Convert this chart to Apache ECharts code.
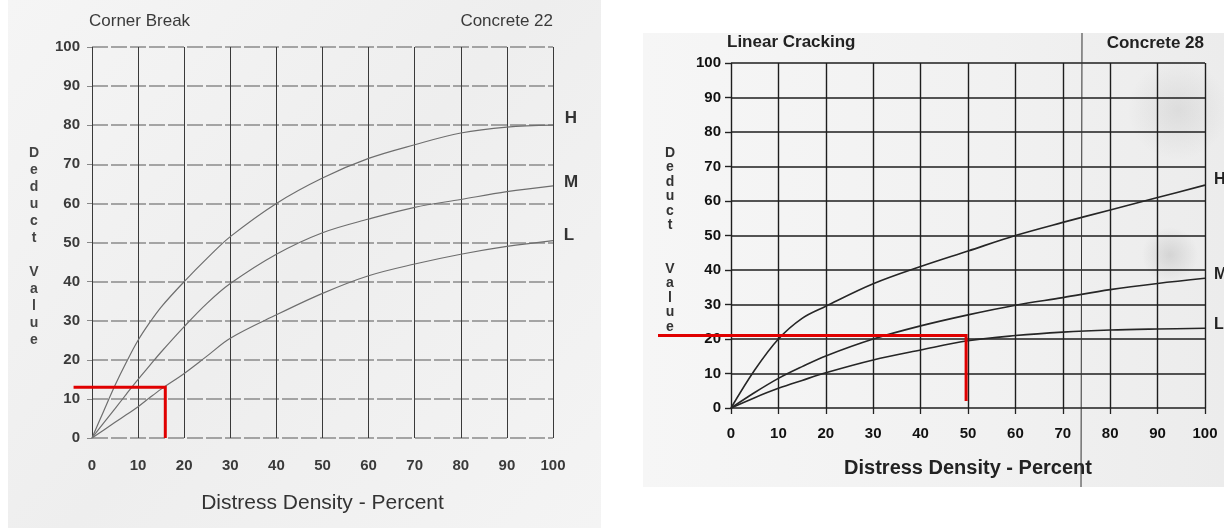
<!DOCTYPE html>
<html><head><meta charset="utf-8">
<script src="https://cdn.jsdelivr.net/npm/echarts@6/dist/echarts.min.js"></script>
<style>html,body{margin:0;padding:0;background:#fff}#c{width:1224px;height:528px}</style>
</head><body><div id="c"></div>
<script>
// ---- data ----
const tickValues = [0,10,20,30,40,50,60,70,80,90,100];

// Left chart: Corner Break (Concrete 22)
const leftX = [0,2.5,5,7.5,10,12.5,15,20,25,30,40,50,60,70,80,90,100];
const leftH = [0,6.8,13.5,19.5,25,29.5,33.5,40,46,51.5,60,66.5,71.5,75,78,79.5,80];
const leftM = [0,3.8,7.5,11.3,15,18.5,22,28.5,34.5,39.5,47,52.5,56,59,61,63,64.5];
const leftL = [0,2,4,6,8,10.3,12.5,16.5,21,25.5,31.5,37,41.5,44.5,47,49,50.5];
const leftRedX = [-4,15.9,15.9];
const leftRedY = [13,13,0];

// Right chart: Linear Cracking (Concrete 28)
const rightX = [0,5,10,15,20,30,40,50,60,70,80,90,100];
const rightH = [0,11,20,26,29.5,36,41,45.5,50,53.8,57.4,61,64.6];
const rightM = [0,4.5,8.6,12,15.1,20,23.8,27,29.8,32,34.3,36.1,37.6];
const rightL = [0,3,5.7,8,10.2,13.9,16.8,19.5,21,22,22.6,22.9,23.1];
const rightRedX = [-15.4,49.6,49.6];
const rightRedY = [21,21,2];

const severityLabels = ['H','M','L'];

const pairs = (xs, ys) => xs.map((x,i)=>[x, ys[i]]);
const NARROW = "'Liberation Sans Narrow','Arial Narrow','Liberation Sans',Arial,sans-serif";
const BOLD = "'Liberation Sans',Arial,sans-serif";

const chart = echarts.init(document.getElementById('c'), null, {renderer:'canvas'});

function curve(gi, xs, ys, color, width){
  return {type:'line', xAxisIndex:gi, yAxisIndex:gi, data:pairs(xs,ys), smooth:0.35,
    showSymbol:false, symbol:'none', lineStyle:{color:color, width:width}, z:5, silent:true};
}

const staticGraphics = [
    // paper backgrounds
    {type:'rect', z:-20, shape:{x:8, y:0, width:593, height:528},
     style:{fill:new echarts.graphic.LinearGradient(0,0,1,1,[{offset:0,color:'#f5f5f5'},{offset:0.5,color:'#eeeeee'},{offset:1,color:'#f4f4f4'}])}},
    {type:'rect', z:-20, shape:{x:643, y:33, width:581, height:454},
     style:{fill:new echarts.graphic.LinearGradient(0,0,1,0,[{offset:0,color:'#f6f6f6'},{offset:0.6,color:'#f1f1f1'},{offset:1,color:'#ececec'}])}},
    {type:'ellipse', z:-19, shape:{cx:1178, cy:110, rx:50, ry:60},
     style:{fill:new echarts.graphic.RadialGradient(0.5,0.5,0.5,[{offset:0,color:'rgba(120,120,120,0.14)'},{offset:1,color:'rgba(120,120,120,0)'}])}},
    {type:'ellipse', z:-19, shape:{cx:1170, cy:255, rx:60, ry:28},
     style:{fill:new echarts.graphic.RadialGradient(0.5,0.5,0.5,[{offset:0,color:'rgba(100,100,100,0.18)'},{offset:1,color:'rgba(100,100,100,0)'}])}},
    // stray vertical scan line on right page
    {type:'line', z:20, shape:{x1:1082, y1:33, x2:1081, y2:487}, style:{stroke:'#333', lineWidth:1}},
    // left titles
    {type:'text', z:20, style:{text:'Corner Break', x:89, y:21, fontSize:17, fill:'#3a3a3a', fontFamily:NARROW, verticalAlign:'middle', align:'left'}},
    {type:'text', z:20, style:{text:'Concrete 22', x:553, y:21, fontSize:17, fill:'#3a3a3a', fontFamily:NARROW, verticalAlign:'middle', align:'right'}},
    {type:'text', z:20, style:{text:'D\ne\nd\nu\nc\nt\n\nV\na\nl\nu\ne', x:34, y:247, fontSize:14, fontWeight:'bold', lineHeight:17, fill:'#444', fontFamily:NARROW, verticalAlign:'middle', align:'center'}},
    {type:'text', z:20, style:{text:severityLabels[0], x:571, y:118, fontSize:17, fontWeight:'bold', fill:'#333', fontFamily:NARROW, verticalAlign:'middle', align:'center'}},
    {type:'text', z:20, style:{text:severityLabels[1], x:571, y:182, fontSize:17, fontWeight:'bold', fill:'#333', fontFamily:NARROW, verticalAlign:'middle', align:'center'}},
    {type:'text', z:20, style:{text:severityLabels[2], x:569, y:235, fontSize:17, fontWeight:'bold', fill:'#333', fontFamily:NARROW, verticalAlign:'middle', align:'center'}},
    // right titles
    {type:'text', z:20, style:{text:'Linear Cracking', x:727, y:42, fontSize:17, fontWeight:'bold', fill:'#222', fontFamily:BOLD, verticalAlign:'middle', align:'left'}},
    {type:'text', z:20, style:{text:'Concrete 28', x:1204, y:43, fontSize:17, fontWeight:'bold', fill:'#222', fontFamily:BOLD, verticalAlign:'middle', align:'right'}},
    {type:'text', z:20, style:{text:'D\ne\nd\nu\nc\nt\n\n\nV\na\nl\nu\ne', x:670, y:240, fontSize:14, fontWeight:'bold', lineHeight:14.5, fill:'#333', fontFamily:BOLD, verticalAlign:'middle', align:'center'}},
    {type:'text', z:20, style:{text:severityLabels[0], x:1214, y:180, fontSize:16, fontWeight:'bold', fill:'#222', fontFamily:BOLD, verticalAlign:'middle', align:'left'}},
    {type:'text', z:20, style:{text:severityLabels[1], x:1214, y:275, fontSize:16, fontWeight:'bold', fill:'#222', fontFamily:BOLD, verticalAlign:'middle', align:'left'}},
    {type:'text', z:20, style:{text:severityLabels[2], x:1214, y:325, fontSize:16, fontWeight:'bold', fill:'#222', fontFamily:BOLD, verticalAlign:'middle', align:'left'}}
];

const option = {
  animation:false,
  backgroundColor:'#ffffff',
  grid:[
    {left:92, top:47, width:461, height:391},
    {left:731, top:63, width:474, height:345}
  ],
  xAxis:[
    {gridIndex:0, type:'value', min:0, max:100, interval:10,
     axisLine:{show:false}, axisTick:{show:false},
     axisLabel:{fontSize:15, fontWeight:'bold', color:'#3a3a3a', margin:20, fontFamily:NARROW},
     splitLine:{show:true, lineStyle:{color:'#3a3a3a', width:1}},
     name:'Distress Density - Percent', nameLocation:'middle', nameGap:55,
     nameTextStyle:{fontSize:21, color:'#333', fontFamily:NARROW}},
    {gridIndex:1, type:'value', min:0, max:100, interval:10,
     axisLine:{show:false}, axisTick:{show:true, length:6, lineStyle:{color:'#222', width:1.3}},
     axisLabel:{fontSize:15, fontWeight:'bold', color:'#111', margin:18, fontFamily:BOLD},
     splitLine:{show:true, lineStyle:{color:'#1e1e1e', width:1.4}},
     name:'Distress Density - Percent', nameLocation:'middle', nameGap:50,
     nameTextStyle:{fontSize:20, fontWeight:'bold', color:'#222', fontFamily:BOLD}}
  ],
  yAxis:[
    {gridIndex:0, type:'value', min:0, max:100, interval:10,
     axisLine:{show:false}, axisTick:{show:true, length:5, lineStyle:{color:'#888'}},
     axisLabel:{fontSize:15, fontWeight:'bold', color:'#3a3a3a', margin:12, fontFamily:NARROW},
     splitLine:{show:true, lineStyle:{color:'#8a8a8a', width:1.6, type:[16,3]}}},
    {gridIndex:1, type:'value', min:0, max:100, interval:10,
     axisLine:{show:false}, axisTick:{show:true, length:6, lineStyle:{color:'#222', width:1.4}},
     axisLabel:{fontSize:15, fontWeight:'bold', color:'#111', margin:10, fontFamily:BOLD},
     splitLine:{show:true, lineStyle:{color:'#1e1e1e', width:1.6}}}
  ],
  series:[
    curve(0, leftX, leftH, '#6e6e6e', 1.2),
    curve(0, leftX, leftM, '#6e6e6e', 1.2),
    curve(0, leftX, leftL, '#6e6e6e', 1.2),
    curve(1, rightX, rightH, '#262626', 1.6),
    curve(1, rightX, rightM, '#262626', 1.6),
    curve(1, rightX, rightL, '#262626', 1.6)
  ],
  graphic: staticGraphics
};
chart.setOption(option);

// Red reading lines: positioned through the chart's own axis scales (they extend past the axis).
function redPolyline(gi, xs, ys){
  const pts = xs.map((x,i)=>chart.convertToPixel({gridIndex:gi}, [x, ys[i]]));
  return {type:'polyline', z:30, shape:{points:pts}, style:{stroke:'#e00000', lineWidth:3, fill:null, lineJoin:'miter'}};
}
chart.setOption({graphic: staticGraphics.concat([
  redPolyline(0, leftRedX, leftRedY),
  redPolyline(1, rightRedX, rightRedY)
])});
</script>
</body></html>
